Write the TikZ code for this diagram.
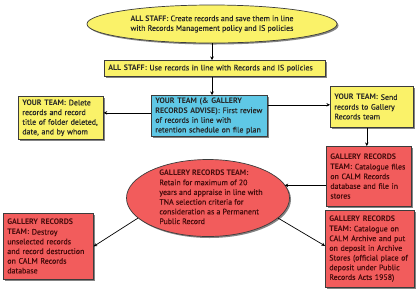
\documentclass[tikz,border=0pt]{standalone}
\usepackage{fontspec}
\setmainfont{PT Sans}[UprightFeatures={FakeBold=0.35}]
\usetikzlibrary{shapes.geometric,shadows,arrows.meta}
\definecolor{ylw}{RGB}{250,242,105}
\definecolor{cyn}{RGB}{95,200,230}
\definecolor{rd}{RGB}{242,92,92}
\definecolor{rtxt}{RGB}{70,12,12}
\definecolor{edge}{RGB}{60,60,60}
\tikzset{
  shad/.style={drop shadow={shadow xshift=1.5pt,shadow yshift=-1.5pt,fill=black!60,opacity=0.8}},
  fnt/.style={font=\fontsize{7.9}{9.7}\selectfont},
  box/.style={draw=edge,line width=0.7pt,anchor=north west,align=left,inner xsep=4pt,inner ysep=1pt,fnt,shad},
  ybox/.style={box,fill=ylw,text=black!85},
  cbox/.style={box,fill=cyn,text=black!85},
  rbx/.style={box,fill=rd,text=rtxt},
  conn/.style={draw=black,line width=0.7pt,-{Stealth[length=3.5pt,width=3.5pt]}}
}
\begin{document}
\begin{tikzpicture}[x=1pt,y=-1pt]
\fill[white] (0,0) rectangle (420,293);
\useasboundingbox (0,0) rectangle (420,293);
% top ellipse
\node[ellipse,draw=edge,line width=0.7pt,fill=ylw,shad,minimum width=250pt,minimum height=38pt,inner sep=0pt,align=left,fnt,text=black!85] (top) at (212,24)
  {\textbf{ALL STAFF:} Create records and save them in line\\with Records Management policy and IS policies};
% use records
\node[ybox,text width=213pt,minimum height=16pt] (use) at (104,60)
  {\textbf{ALL STAFF:} Use records in line with Records and IS policies};
% review
\node[cbox,text width=108pt,minimum height=41pt] (rev) at (151,95)
  {\textbf{YOUR TEAM (\& GALLERY}\\\textbf{RECORDS ADVISE):} First review\\of records in line with\\retention schedule on file plan};
% delete
\node[ybox,text width=77pt,minimum height=43pt] (del) at (18,96)
  {\textbf{YOUR TEAM:} Delete\\records and record\\title of folder deleted,\\date, and by whom};
% send
\node[ybox,text width=75pt,minimum height=41pt] (send) at (330,86)
  {\textbf{YOUR TEAM:} Send\\records to Gallery\\Records team};
% catalogue files
\node[rbx,text width=77pt,minimum height=60pt] (cat) at (326,146)
  {\textbf{GALLERY RECORDS}\\\textbf{TEAM:} Catalogue files\\on CALM Records\\database and file in\\stores};
% red ellipse
\node[ellipse,draw=edge,line width=0.7pt,fill=rd,shad,minimum width=163pt,minimum height=77pt,inner sep=0pt] (ell) at (208,198) {};
\node[align=left,fnt,text=rtxt,inner sep=0pt] (ellt) at (211,197)
  {\textbf{GALLERY RECORDS TEAM:}\\Retain for maximum of 20\\years and appraise in line with\\TNA selection criteria for\\consideration as a Permanent\\Public Record};
% destroy
\node[rbx,text width=82pt,minimum height=66pt] (dest) at (3,213)
  {\textbf{GALLERY RECORDS}\\\textbf{TEAM:} Destroy\\unselected records\\and record destruction\\on CALM Records\\database};
% archive
\node[rbx,text width=81pt,minimum height=77pt] (arch) at (325,210)
  {\textbf{GALLERY RECORDS}\\\textbf{TEAM:} Catalogue on\\CALM Archive and put\\on deposit in Archive\\Stores (official place of\\deposit under Public\\Records Acts 1958)};
% connectors
\draw[conn] (top.south) -- (use.north -| top.south);
\draw[conn] (use.south -| top.south) -- (rev.north -| top.south);
\coordinate (a0) at ([yshift=3pt]rev.west);
\draw[conn] (a0) -- (a0 -| del.east);
\coordinate (a1) at ([yshift=11pt]rev.east);
\draw[conn] (a1) -- (a1 -| send.west);
\coordinate (a2) at ([xshift=-5pt]send.south);
\draw[conn] (a2) -- (a2 |- cat.north);
\coordinate (a3) at ([yshift=-9pt]cat.west);
\draw[conn] (a3) -- (a3 -| ell.10);
\draw[conn] (ell.196) -- (dest.east);
\draw[conn] (ell.344) -- ([yshift=3pt]arch.west);
\end{tikzpicture}
\end{document}
